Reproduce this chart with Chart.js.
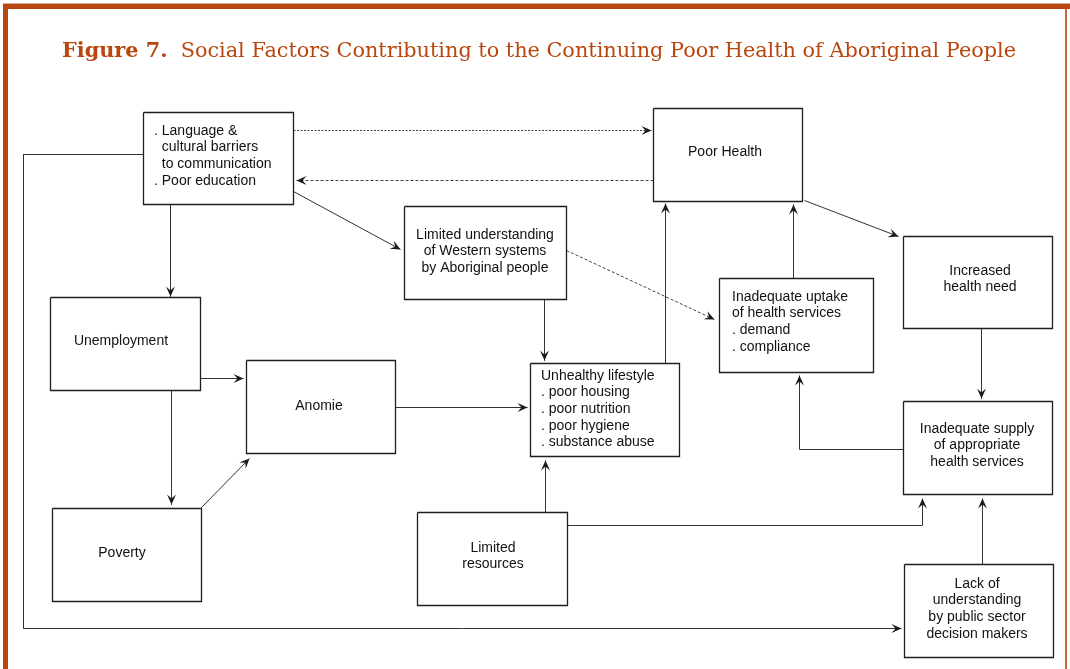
<!DOCTYPE html>
<html>
<head>
<meta charset="utf-8">
<script src="https://cdn.jsdelivr.net/npm/chart.js@4"></script>
<style>
  html, body { margin: 0; padding: 0; background: #fff; }
  #diagram { display: block; }
</style>
</head>
<body>
<canvas id="diagram" width="1070" height="669"></canvas>
<script>
// Figure title
const titleBold = 'Figure 7.';
const titleText = 'Social Factors Contributing to the Continuing Poor Health of Aboriginal People';

// Boxes of the diagram (left, top, right, bottom in diagram units)
const nodeNames = ['language', 'poorHealth', 'westernSystems', 'uptake', 'healthNeed',
  'unemployment', 'anomie', 'poverty', 'lifestyle', 'resources', 'supply', 'decisionMakers'];
const nodeLines = [
  ['. Language &', '  cultural barriers', '  to communication', '. Poor education'],
  ['Poor Health'],
  ['Limited understanding', 'of Western systems', 'by Aboriginal people'],
  ['Inadequate uptake', 'of health services', '. demand', '. compliance'],
  ['Increased', 'health need'],
  ['Unemployment'],
  ['Anomie'],
  ['Poverty'],
  ['Unhealthy lifestyle', '. poor housing', '. poor nutrition', '. poor hygiene', '. substance abuse'],
  ['Limited', 'resources'],
  ['Inadequate supply', 'of appropriate', 'health services'],
  ['Lack of', 'understanding', 'by public sector', 'decision makers']
];
const nodeLeft   = [143, 653, 404, 719, 903,  50, 246,  52, 530, 417, 903, 904];
const nodeTop    = [112, 108, 206, 278, 236, 297, 360, 508, 363, 512, 401, 564];
const nodeRight  = [293, 802, 566, 873, 1052, 200, 395, 201, 679, 567, 1052, 1053];
const nodeBottom = [204, 201, 299, 372, 328, 390, 453, 601, 456, 605, 494, 657];
const nodeTextX  = [154, 725, 485, 732, 980, 121, 319, 122, 541, 493, 977, 977];
const nodeTextY  = [131, 152, 235, 297, 271, 341, 406, 553, 376, 548, 429, 584];
const nodeAlign  = ['left', 'center', 'center', 'left', 'center', 'center', 'center',
  'center', 'left', 'center', 'center', 'center'];

// Connectors: polyline points, arrow at the last point
const linkPaths = [
  [[293, 130], [651, 130]],
  [[653, 180], [296, 180]],
  [[293, 191], [400, 249]],
  [[170, 204], [170, 296]],
  [[143, 154], [23, 154], [23, 628], [901, 628]],
  [[200, 378], [243, 378]],
  [[171, 390], [171, 504]],
  [[201, 507], [249, 458]],
  [[395, 407], [527, 407]],
  [[544, 299], [544, 360]],
  [[665, 363], [665, 203]],
  [[566, 250], [714, 319]],
  [[793, 278], [793, 204]],
  [[804, 200], [898, 236]],
  [[981, 328], [981, 398]],
  [[903, 449], [799, 449], [799, 375]],
  [[545, 512], [545, 460]],
  [[567, 525], [922, 525], [922, 498]],
  [[982, 564], [982, 498]]
];
const linkDotted = [true, true, false, false, false, false, false, false, false, false,
  false, true, false, false, false, false, false, false, false];

const accent = '#b8460d';
const lineHeight = 16.6;
const crisp = 0.5; // half pixel so 1px strokes land on the pixel grid

const datasets = [];
nodeNames.forEach(function (name, i) {
  const l = nodeLeft[i] + crisp, r = nodeRight[i] + crisp;
  const t = nodeTop[i] + crisp, b = nodeBottom[i] + crisp;
  datasets.push({
    label: name,
    data: [{ x: l, y: t }, { x: r, y: t }, { x: r, y: b }, { x: l, y: b }, { x: l, y: t }],
    showLine: true,
    borderColor: '#1e1e1e',
    borderWidth: 1.3,
    pointRadius: 0,
    tension: 0,
    fill: false
  });
});
linkPaths.forEach(function (path, i) {
  datasets.push({
    label: 'link' + i,
    data: path.map(function (p) { return { x: p[0] + crisp, y: p[1] + crisp }; }),
    showLine: true,
    borderColor: linkDotted[i] ? '#444' : '#333',
    borderWidth: 1,
    borderDash: linkDotted[i] ? (i === 0 ? [2, 1.5] : [3, 2]) : [],
    pointRadius: 0,
    tension: 0,
    fill: false
  });
});

const framePlugin = {
  id: 'frame',
  beforeDraw: function (chart) {
    const c = chart.ctx;
    c.save();
    c.fillStyle = '#fff';
    c.fillRect(0, 0, chart.width, chart.height);
    c.fillStyle = '#dcae92';
    c.fillRect(3, 3, 1067, 1);
    c.fillStyle = accent;
    c.fillRect(3, 4, 1067, 5);
    c.fillRect(3, 4, 5, 665);
    c.fillStyle = '#c76a3a';
    c.fillRect(1065, 9, 2, 660);

    // title, bold prefix then regular text
    const boldFont = 'bold 21px "DejaVu Serif"';
    const normFont = '21px "DejaVu Serif"';
    c.font = boldFont;
    const wBold = c.measureText(titleBold).width;
    c.font = normFont;
    const gap = c.measureText('  ').width;
    const wText = c.measureText(titleText).width;
    const sx = 954 / (wBold + gap + wText);
    c.translate(62, 57);
    c.scale(sx, 1);
    c.fillStyle = accent;
    c.textBaseline = 'alphabetic';
    c.textAlign = 'left';
    c.font = boldFont;
    c.fillText(titleBold, 0, 0);
    c.font = normFont;
    c.fillText(titleText, wBold + gap, 0);
    c.restore();
  }
};

const labelPlugin = {
  id: 'labels',
  afterDatasetsDraw: function (chart) {
    const c = chart.ctx;
    const xs = chart.scales.x;
    const ys = chart.scales.y;
    c.save();

    // arrowheads
    c.fillStyle = '#1a1a1a';
    linkPaths.forEach(function (path) {
      const a = path[path.length - 2];
      const b = path[path.length - 1];
      const x1 = xs.getPixelForValue(a[0] + crisp), y1 = ys.getPixelForValue(a[1] + crisp);
      const x2 = xs.getPixelForValue(b[0] + crisp), y2 = ys.getPixelForValue(b[1] + crisp);
      const ang = Math.atan2(y2 - y1, x2 - x1);
      const len = 10, half = 4.5;
      c.save();
      c.translate(x2, y2);
      c.rotate(ang);
      c.beginPath();
      c.moveTo(0, 0);
      c.lineTo(-len, -half);
      c.lineTo(-len * 0.6, 0);
      c.lineTo(-len, half);
      c.closePath();
      c.fill();
      c.restore();
    });

    // box texts
    c.fillStyle = '#111';
    c.font = '14px "Liberation Sans", Arial, sans-serif';
    c.textBaseline = 'middle';
    nodeLines.forEach(function (lines, i) {
      c.textAlign = nodeAlign[i];
      lines.forEach(function (line, k) {
        const px = xs.getPixelForValue(nodeTextX[i]);
        const py = ys.getPixelForValue(nodeTextY[i] + k * lineHeight);
        c.fillText(line, px, py);
      });
    });
    c.restore();
  }
};

new Chart(document.getElementById('diagram').getContext('2d'), {
  type: 'scatter',
  data: { datasets: datasets },
  options: {
    responsive: false,
    animation: false,
    layout: { padding: 0 },
    plugins: {
      legend: { display: false },
      tooltip: { enabled: false },
      title: { display: false }
    },
    scales: {
      x: { type: 'linear', min: 0, max: 1070, display: false },
      y: { type: 'linear', min: 0, max: 669, reverse: true, display: false }
    },
    elements: { line: { borderCapStyle: 'butt' } }
  },
  plugins: [framePlugin, labelPlugin]
});
</script>
</body>
</html>
